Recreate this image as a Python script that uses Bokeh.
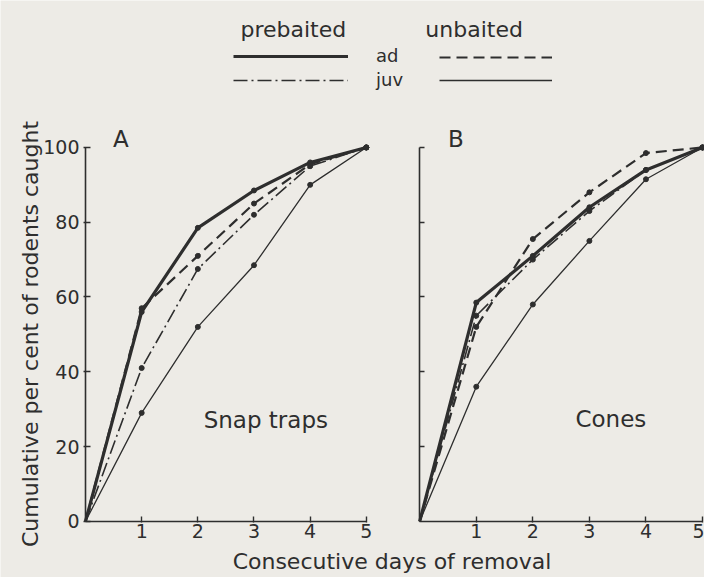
import math
from bokeh.plotting import figure
from bokeh.models import Range1d, LinearAxis, FixedTicker, Label, Legend, LegendItem
from bokeh.embed import file_html
from bokeh.resources import INLINE

# ---- data ----
days = [0, 1, 2, 3, 4, 5]
x_ticks = [1, 2, 3, 4, 5]
y_ticks = [0, 20, 40, 60, 80, 100]
y_ticks_b = [20, 40, 60, 80, 100]

# A: Snap traps
snap_pre_ad = [0, 56, 78.5, 88.5, 96, 100]
snap_unb_ad = [0, 57, 71, 85, 95.5, 100]
snap_pre_juv = [0, 41, 67.5, 82, 95, 100]
snap_unb_juv = [0, 29, 52, 68.5, 90, 100]
# B: Cones
cone_pre_ad = [0, 58.5, 71, 84, 94, 100]
cone_unb_ad = [0, 52, 75.5, 88, 98.5, 100]
cone_pre_juv = [0, 55, 70, 83, 94, 100]
cone_unb_juv = [0, 36, 58, 75, 91.5, 100]

BG = "#edebe6"
INK = "#2e2e2e"
FONT = "DejaVu Sans"
W, H = 704, 577

p = figure(width=W, height=H, output_backend="svg", toolbar_location=None,
           x_range=Range1d(-1.514, 11.022), y_range=Range1d(-15.04, 139.32),
           x_axis_location=None, y_axis_location=None,
           min_border=0, min_border_left=0, min_border_right=0,
           min_border_top=0, min_border_bottom=0)
p.extra_x_ranges = {"B": Range1d(-7.412, 5.035)}
p.background_fill_color = BG
p.border_fill_color = BG
p.outline_line_color = None
p.grid.visible = False

def make_axis(kind, rng, ticker, tick_in=5, tick_out=1, standoff=3):
    ax = LinearAxis(x_range_name=rng, fixed_location=0, ticker=ticker)
    ax.axis_line_color = INK
    ax.axis_line_width = 1.6
    ax.major_tick_line_color = INK
    ax.major_tick_line_width = 1.4
    ax.minor_tick_line_color = INK
    ax.minor_tick_line_width = 1.4
    ax.major_tick_in = tick_in
    ax.major_tick_out = tick_out
    ax.minor_tick_in = tick_in
    ax.minor_tick_out = 0
    ax.major_label_standoff = standoff
    ax.major_label_text_font = FONT
    ax.major_label_text_font_size = "19px"
    ax.major_label_text_color = INK
    p.add_layout(ax, kind)
    return ax

xa = make_axis("below", "default", FixedTicker(ticks=x_ticks), standoff=2)
xa.bounds = (0, 5)
ya = make_axis("left", "default", FixedTicker(ticks=y_ticks), tick_out=2, standoff=4)
ya.bounds = (0, 100)
xb = make_axis("below", "B", FixedTicker(ticks=x_ticks), standoff=2)
xb.bounds = (0, 5)
yb = make_axis("left", "B", FixedTicker(ticks=[], minor_ticks=y_ticks_b), tick_out=0)
yb.bounds = (0, 100)

styles = {
    "pre_ad": dict(line_width=3.2, line_dash="solid"),
    "unb_ad": dict(line_width=2.2, line_dash="11 6"),
    "pre_juv": dict(line_width=1.6, line_dash="14 4 2 4"),
    "unb_juv": dict(line_width=1.3, line_dash="solid"),
}

def draw(series, key, rng="default"):
    r = p.line(days, series, line_color=INK, x_range_name=rng, **styles[key])
    p.scatter(days[1:], series[1:], size=5, color=INK, x_range_name=rng)
    return r

rA = {
    "pre_ad": draw(snap_pre_ad, "pre_ad"),
    "unb_ad": draw(snap_unb_ad, "unb_ad"),
    "pre_juv": draw(snap_pre_juv, "pre_juv"),
    "unb_juv": draw(snap_unb_juv, "unb_juv"),
}
draw(cone_pre_ad, "pre_ad", "B")
draw(cone_unb_ad, "unb_ad", "B")
draw(cone_pre_juv, "pre_juv", "B")
draw(cone_unb_juv, "unb_juv", "B")

def legend(items, labels, x, w, standoff):
    lg = Legend(items=[LegendItem(label=t, renderers=[r]) for r, t in zip(items, labels)],
                location=(x, 487), glyph_width=w, glyph_height=20, label_height=20,
                label_standoff=standoff, spacing=3, padding=0, margin=0,
                border_line_color=None, background_fill_alpha=0,
                label_text_font=FONT, label_text_font_size="18px",
                label_text_color=INK)
    p.add_layout(lg)

legend([rA["pre_ad"], rA["pre_juv"]], ["ad", "juv"], 233, 115, 28)
legend([rA["unb_ad"], rA["unb_juv"]], ["", ""], 439, 113, 0)

def label(text, x, y, size, rng="default", align="center", baseline="middle", angle=0.0):
    p.add_layout(Label(text=text, x=x, y=y, x_range_name=rng, text_font=FONT,
                       text_font_size=size, text_color=INK, text_align=align,
                       text_baseline=baseline, angle=angle))

label("A", 0.63, 102.4, "23px")
label("B", 0.64, 102.4, "23px", rng="B")
label("Snap traps", 3.21, 27.2, "23px")
label("Cones", 3.38, 27.4, "23px", rng="B")
label("prebaited", 3.70, 131.5, "22px", baseline="alphabetic")
label("unbaited", 6.92, 131.5, "22px", baseline="alphabetic")
label("Consecutive days of removal", 5.458, -10.8, "22px", baseline="alphabetic")
label("Cumulative per cent of rodents caught", -0.986, 50.1, "22px", angle=math.pi / 2)

open("out.html", "w").write(file_html(p, INLINE))
